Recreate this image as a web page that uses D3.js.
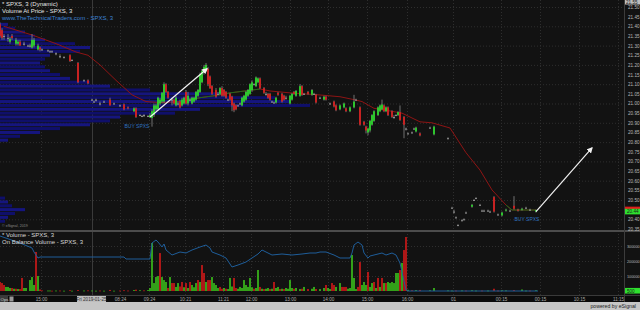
<!DOCTYPE html>
<html>
<head>
<meta charset="utf-8">
<script src="https://cdn.jsdelivr.net/npm/d3@7"></script>
<style>
html, body { margin: 0; padding: 0; background: #121212; }
svg { display: block; font-family: "Liberation Sans", Arial, sans-serif; }
</style>
</head>
<body>
<svg id="chart" width="640" height="310"></svg>
<script>
// candles: [barIndex, open, high, low, close]
const priorDay = [
  [0, 21.41, 21.42, 21.34, 21.35], [1, 21.38, 21.39, 21.33, 21.34], [2, 21.35, 21.36, 21.33, 21.35],
  [4, 21.34, 21.36, 21.32, 21.34], [5, 21.32, 21.345, 21.31, 21.335], [6, 21.35, 21.36, 21.33, 21.34],
  [8, 21.31, 21.34, 21.30, 21.33], [9, 21.31, 21.33, 21.30, 21.32], [10, 21.32, 21.33, 21.30, 21.30],
  [12, 21.31, 21.32, 21.30, 21.31], [14, 21.30, 21.305, 21.295, 21.30], [15, 21.30, 21.31, 21.29, 21.30],
  [16, 21.29, 21.36, 21.285, 21.33], [17, 21.30, 21.34, 21.29, 21.33], [19, 21.28, 21.31, 21.275, 21.30],
  [20, 21.29, 21.295, 21.27, 21.28], [21, 21.28, 21.285, 21.275, 21.28], [24, 21.275, 21.28, 21.27, 21.275],
  [25, 21.27, 21.275, 21.265, 21.27], [26, 21.27, 21.275, 21.265, 21.27], [28, 21.26, 21.265, 21.25, 21.26],
  [30, 21.245, 21.255, 21.235, 21.245], [32, 21.24, 21.245, 21.235, 21.24], [35, 21.25, 21.255, 21.215, 21.22],
  [36, 21.225, 21.23, 21.22, 21.225], [39, 21.21, 21.215, 21.105, 21.11], [42, 21.12, 21.125, 21.115, 21.12],
  [44, 21.12, 21.125, 21.10, 21.105]
];
const preMarket = [
  [46, 21.02, 21.025, 21.015, 21.02], [47, 21.01, 21.015, 21.005, 21.01], [48, 21.02, 21.025, 21.01, 21.02],
  [50, 21.00, 21.01, 20.99, 21.00], [52, 21.01, 21.015, 21.005, 21.01], [55, 21.02, 21.03, 20.99, 20.99],
  [57, 21.00, 21.005, 20.995, 21.00], [60, 20.99, 20.995, 20.985, 20.99], [62, 20.995, 21.0, 20.965, 20.97],
  [64, 20.98, 20.985, 20.97, 20.975], [67, 20.96, 20.98, 20.955, 20.975], [68, 20.975, 20.98, 20.925, 20.93],
  [70, 20.94, 20.945, 20.935, 20.94], [71, 20.935, 20.94, 20.93, 20.935], [72, 20.94, 20.945, 20.93, 20.94],
  [74, 20.935, 20.94, 20.93, 20.935]
];
const regular = [
  [75, 20.93, 20.95, 20.925, 20.94], [76, 20.925, 20.97, 20.88, 20.96], [77, 20.94, 21.00, 20.93, 20.99],
  [78, 20.97, 21.00, 20.96, 20.99], [79, 20.97, 21.035, 20.965, 21.03], [80, 21.00, 21.03, 20.99, 21.02],
  [81, 21.01, 21.06, 21.00, 21.055], [82, 21.01, 21.11, 21.00, 21.10], [83, 21.10, 21.105, 21.055, 21.06],
  [84, 21.06, 21.065, 21.025, 21.03], [86, 21.02, 21.03, 20.99, 21.02], [87, 21.02, 21.025, 20.995, 21.00],
  [88, 20.99, 21.04, 20.985, 21.03], [89, 21.00, 21.01, 20.99, 21.00], [90, 21.01, 21.02, 20.975, 20.98],
  [91, 20.99, 21.03, 20.985, 21.02], [92, 21.00, 21.035, 20.995, 21.03], [93, 21.06, 21.07, 20.995, 21.00],
  [94, 21.00, 21.06, 20.99, 21.04], [95, 21.02, 21.03, 21.01, 21.02], [96, 21.00, 21.035, 20.995, 21.03],
  [97, 21.01, 21.035, 21.005, 21.03], [98, 21.02, 21.065, 21.015, 21.06], [99, 21.04, 21.075, 21.035, 21.07],
  [100, 21.06, 21.16, 21.055, 21.15], [101, 21.11, 21.175, 21.105, 21.17], [102, 21.16, 21.20, 21.15, 21.19],
  [103, 21.17, 21.21, 21.165, 21.20], [104, 21.18, 21.19, 21.09, 21.10], [105, 21.14, 21.145, 21.075, 21.08],
  [106, 21.09, 21.095, 21.045, 21.05], [108, 21.07, 21.08, 21.03, 21.035], [109, 21.05, 21.06, 21.045, 21.05],
  [110, 21.05, 21.085, 21.045, 21.08], [111, 21.08, 21.09, 21.035, 21.04], [112, 21.07, 21.075, 21.035, 21.04],
  [113, 21.06, 21.065, 21.025, 21.03], [114, 21.02, 21.025, 21.015, 21.02], [115, 21.05, 21.055, 21.015, 21.02],
  [116, 21.035, 21.04, 20.96, 20.99], [117, 21.00, 21.005, 20.955, 20.965], [118, 20.99, 20.995, 20.965, 20.97],
  [119, 20.99, 20.995, 20.985, 20.99], [120, 21.00, 21.005, 20.995, 21.00], [121, 20.99, 21.035, 20.985, 21.03],
  [122, 21.01, 21.045, 21.005, 21.04], [123, 21.02, 21.065, 21.015, 21.06], [124, 21.04, 21.075, 21.035, 21.07],
  [125, 21.05, 21.105, 21.045, 21.10], [126, 21.07, 21.12, 21.06, 21.11], [127, 21.10, 21.105, 21.095, 21.10],
  [128, 21.09, 21.14, 21.085, 21.135], [129, 21.11, 21.135, 21.105, 21.13], [130, 21.13, 21.135, 21.075, 21.08],
  [132, 21.08, 21.085, 21.05, 21.055], [133, 21.05, 21.06, 21.04, 21.05], [134, 21.05, 21.055, 21.025, 21.03],
  [135, 21.05, 21.055, 21.015, 21.02], [136, 21.01, 21.015, 21.005, 21.01], [137, 21.005, 21.01, 21.0, 21.005],
  [138, 21.005, 21.035, 21.0, 21.03], [139, 21.055, 21.06, 21.04, 21.045], [141, 21.05, 21.055, 21.005, 21.01],
  [142, 21.04, 21.045, 21.015, 21.02], [143, 21.03, 21.04, 21.02, 21.03], [145, 21.00, 21.045, 20.995, 21.04],
  [146, 21.02, 21.055, 21.015, 21.05], [147, 21.06, 21.065, 21.045, 21.05], [148, 21.04, 21.07, 21.035, 21.065],
  [150, 21.04, 21.10, 21.035, 21.09], [151, 21.09, 21.095, 21.04, 21.045], [152, 21.05, 21.055, 21.045, 21.05],
  [154, 21.06, 21.065, 21.045, 21.05], [156, 21.045, 21.075, 21.04, 21.07], [157, 21.05, 21.055, 21.045, 21.05],
  [158, 21.045, 21.05, 21.0, 21.005], [160, 21.03, 21.035, 21.025, 21.03], [162, 21.02, 21.04, 21.015, 21.035],
  [163, 21.035, 21.04, 21.015, 21.02], [165, 21.00, 21.005, 20.995, 21.00], [167, 21.01, 21.015, 20.98, 20.985],
  [168, 20.99, 20.995, 20.96, 20.965], [170, 20.97, 20.995, 20.965, 20.99], [172, 20.98, 21.005, 20.975, 21.00],
  [173, 20.975, 20.98, 20.955, 20.96], [175, 20.96, 20.985, 20.955, 20.98], [177, 20.98, 21.045, 20.975, 21.01],
  [178, 21.02, 21.025, 21.015, 21.02], [180, 20.98, 20.985, 20.885, 20.89], [182, 20.905, 20.91, 20.885, 20.89],
  [183, 20.88, 20.885, 20.845, 20.86], [184, 20.85, 20.875, 20.835, 20.87], [185, 20.86, 20.915, 20.85, 20.91],
  [186, 20.89, 20.945, 20.885, 20.94], [187, 20.91, 20.965, 20.905, 20.96], [189, 20.94, 20.985, 20.935, 20.98],
  [190, 20.96, 20.995, 20.955, 20.99], [191, 20.97, 21.02, 20.965, 20.995], [192, 20.99, 20.995, 20.955, 20.96],
  [193, 20.96, 20.985, 20.955, 20.98], [194, 20.98, 20.985, 20.935, 20.94], [196, 20.96, 20.965, 20.925, 20.93],
  [197, 20.93, 20.94, 20.92, 20.93], [198, 20.94, 20.945, 20.935, 20.94], [199, 20.94, 20.96, 20.935, 20.955],
  [200, 20.955, 20.99, 20.91, 20.915], [202, 20.93, 20.935, 20.82, 20.89], [203, 20.87, 20.875, 20.86, 20.87]
];
const afterHours = [
  [204, 20.845, 20.85, 20.84, 20.845], [206, 20.85, 20.855, 20.845, 20.85], [207, 20.87, 20.875, 20.865, 20.87],
  [208, 20.855, 20.88, 20.85, 20.875], [210, 20.845, 20.85, 20.83, 20.835], [215, 20.875, 20.88, 20.87, 20.875],
  [217, 20.84, 20.885, 20.835, 20.88], [224, 20.82, 20.825, 20.815, 20.82], [226, 20.46, 20.465, 20.455, 20.46],
  [227, 20.44, 20.45, 20.43, 20.44], [228, 20.41, 20.415, 20.405, 20.41], [229, 20.37, 20.375, 20.365, 20.37],
  [231, 20.395, 20.40, 20.39, 20.395], [232, 20.40, 20.405, 20.395, 20.40], [233, 20.435, 20.44, 20.43, 20.435],
  [236, 20.465, 20.48, 20.46, 20.475], [237, 20.50, 20.505, 20.495, 20.50], [238, 20.51, 20.515, 20.505, 20.51],
  [240, 20.475, 20.48, 20.47, 20.475], [241, 20.445, 20.45, 20.44, 20.445], [242, 20.445, 20.45, 20.44, 20.445],
  [244, 20.445, 20.45, 20.44, 20.445], [245, 20.44, 20.445, 20.435, 20.44], [247, 20.515, 20.52, 20.435, 20.44],
  [249, 20.425, 20.43, 20.42, 20.425], [251, 20.42, 20.44, 20.415, 20.435], [253, 20.445, 20.455, 20.44, 20.45],
  [255, 20.445, 20.45, 20.44, 20.445], [257, 20.47, 20.52, 20.45, 20.455], [259, 20.45, 20.455, 20.44, 20.445],
  [261, 20.45, 20.46, 20.445, 20.455], [263, 20.46, 20.465, 20.455, 20.46], [265, 20.45, 20.455, 20.445, 20.45],
  [268, 20.44, 20.45, 20.435, 20.448]
];

// volume bars: [barIndex, shares, up(1)/down(0)]
const volumes = [
  [0,60000,0],[1,53000,0],[2,40000,0],[3,27000,1],[4,27000,1],[5,20000,1],[6,20000,0],[7,15000,1],[8,15000,0],
  [9,13000,1],[10,13000,0],[11,87000,0],[12,20000,1],[13,20000,1],[15,73000,1],[16,93000,1],[17,40000,1],
  [18,260000,0],[19,100000,1],[20,10000,0],[21,4000,0],[24,3000,1],[25,3000,1],[26,2000,0],[28,3000,1],
  [30,3000,0],[32,2000,1],[35,5000,0],[36,2000,1],[39,6000,0],[42,3000,1],[44,4000,0],[46,3000,1],[48,2000,1],
  [50,3000,0],[52,2000,1],[55,7000,0],[57,2000,1],[60,3000,0],[62,5000,0],[64,3000,0],[67,6000,1],[68,9000,0],
  [70,5000,1],[72,4000,0],[74,6000,1],
  [75,20000,1],[76,320000,1],[77,53000,1],[78,93000,1],[79,100000,1],[80,253000,0],[81,93000,1],[82,73000,1],
  [83,60000,1],[84,20000,0],[85,93000,1],[86,53000,0],[87,53000,0],[88,27000,1],[89,53000,1],[90,30000,0],
  [91,60000,0],[92,25000,1],[93,53000,0],[94,20000,1],[95,60000,0],[96,40000,1],[97,25000,1],[98,53000,1],
  [99,73000,0],[100,60000,1],[101,173000,0],[102,120000,0],[103,60000,1],[104,73000,0],[105,73000,0],
  [106,93000,1],[107,53000,1],[108,40000,1],[109,20000,1],[110,27000,0],[111,15000,0],[112,20000,1],
  [113,15000,0],[114,13000,1],[115,87000,1],[116,30000,1],[117,87000,0],[118,20000,0],[119,15000,1],
  [120,27000,1],[121,20000,1],[122,73000,1],[123,40000,1],[124,27000,1],[125,87000,1],[126,25000,1],
  [127,15000,0],[128,20000,1],[129,140000,1],[130,27000,0],[131,15000,1],[132,13000,0],[133,15000,1],
  [134,20000,1],[135,13000,0],[136,15000,1],[137,60000,0],[138,20000,1],[139,27000,1],[140,13000,0],
  [141,15000,1],[142,13000,0],[143,20000,1],[144,15000,1],[145,73000,1],[146,20000,1],[147,15000,0],
  [148,20000,1],[150,13000,1],[151,15000,0],[152,27000,1],[154,13000,0],[156,15000,1],[157,27000,1],
  [158,13000,0],[160,13000,1],[162,20000,1],[163,40000,0],[164,20000,1],[165,13000,1],[166,53000,0],
  [167,40000,0],[168,27000,1],[170,53000,1],[171,27000,0],[172,27000,0],[173,27000,0],[174,15000,1],
  [175,20000,1],[176,240000,1],[177,87000,1],[178,13000,1],[179,27000,0],[180,193000,0],[181,40000,1],
  [182,60000,1],[183,40000,1],[184,127000,0],[185,27000,1],[186,53000,1],[187,60000,0],[188,20000,1],
  [189,87000,0],[190,27000,1],[191,87000,0],[192,53000,1],[193,53000,0],[194,60000,1],[195,53000,1],
  [196,60000,1],[197,53000,1],[198,120000,1],[199,120000,1],[200,140000,0],[201,187000,1],[202,273000,0],
  [203,360000,0],
  [204,8000,1],[206,5000,0],[208,6000,1],[210,7000,0],[215,5000,1],[217,20000,1],[224,4000,1],[226,3000,1],
  [228,3000,0],[231,4000,1],[233,3000,0],[236,5000,1],[238,3000,1],[241,3000,0],[244,3000,1],[247,15000,0],
  [249,3000,0],[251,5000,1],[253,4000,1],[257,6000,0],[261,10000,1],[263,3000,1],[265,3000,0],[268,5000,1]
];

// on balance volume (thousands): [barIndex, value]
const obvPoints = [
  [0,0],[10,-280],[16,-480],[17,-640],[19,-880],[20,-840],[62,-840],[63,-920],[75,-920],[76,-280],[78,-160],
  [79,-240],[81,-440],[82,-320],[83,-560],[86,-760],[90,-640],[93,-680],[96,-560],[100,-440],[103,-360],
  [105,-480],[106,-640],[110,-760],[113,-880],[116,-1240],[119,-1160],[123,-1040],[126,-880],[129,-720],
  [131,-560],[133,-640],[136,-760],[141,-720],[146,-760],[151,-720],[155,-680],[158,-680],[160,-640],
  [163,-640],[167,-760],[170,-880],[175,-880],[176,-680],[177,-360],[179,-240],[181,-360],[182,-680],
  [184,-880],[185,-800],[187,-760],[191,-680],[193,-760],[196,-680],[198,-760],[200,-1080],[201,-1440],
  [203,-2160],[204,-2200],[269,-2200]
];

// moving average: [barIndex, price]
const maPoints = [
  [2,21.40],[16,21.355],[28,21.31],[38,21.267],[44,21.25],[50,21.20],[58,21.12],[66,21.045],[73,21.01],
  [80,21.005],[90,21.01],[100,21.03],[107,21.04],[115,21.055],[130,21.075],[135,21.065],[145,21.055],
  [159,21.045],[170,21.035],[177,21.02],[181,21.01],[187,20.975],[193,20.965],[201,20.95],[210,20.905],
  [216,20.90],[225,20.873],[233,20.745],[240,20.655],[246,20.552],[253,20.474],[256,20.448],[268,20.448]
];
const maAboveSpans = [[90, 130], [253, 268]];

// volume at price: [bin centre price, shares]
const vapBins = [
  [21.41,8000],[21.39,15000],[21.37,25000],[21.35,35000],[21.33,45000],[21.31,75000],[21.29,90000],
  [21.27,80000],[21.25,50000],[21.23,45000],[21.21,40000],[21.19,45000],[21.17,50000],[21.15,60000],
  [21.13,70000],[21.11,90000],[21.09,110000],[21.07,150000],[21.05,225000],[21.03,275000],[21.01,290000],
  [20.99,310000],[20.97,200000],[20.95,175000],[20.93,120000],[20.91,110000],[20.89,90000],[20.87,60000],
  [20.85,40000],[20.83,20000],[20.81,8000],
  [20.51,5000],[20.49,8000],[20.47,12000],[20.45,25000],[20.43,15000],[20.41,8000],[20.39,5000]
];

const trendArrows = [[75, 20.93, 103.5, 21.18], [268, 20.44, 296, 20.77]];
const buySignals = [[68.5, 20.885], [263.5, 20.40]];

const priceTicks = [21.50, 21.45, 21.40, 21.35, 21.30, 21.25, 21.20, 21.15, 21.10, 21.05, 21.00, 20.95,
  20.90, 20.85, 20.80, 20.75, 20.70, 20.65, 20.60, 20.55, 20.50, 20.40, 20.35];
const volumeTicks = [100000, 200000, 300000];
const timeTicks = [[20.5,"15:00"],[60,"08:24"],[74.5,"09:24"],[92.5,"10:21"],[111.5,"11:21"],[125.5,"12:00"],
  [145,"13:00"],[164,"14:00"],[183.5,"15:00"],[203.5,"16:00"],[226.5,"01"],[250.5,"00:15"],[270,"00:15"],
  [289.5,"10:15"],[309,"11:15"]];
const dayBreak = [46, "Fri 2019-01-25"];
const lastPrice = 20.44, lastMa = 20.45, topPrice = 21.55, lastVolume = 500;

const svg = d3.select("#chart");
const W = 624;
const x = d3.scaleLinear().domain([0, 312]).range([0, W]);
const yPrice = d3.scaleLinear().domain([20.5, 21.1]).range([200, 84.2]);
const yVol = d3.scaleLinear().domain([0, 400000]).range([291, 231]);
const yObv = d3.scaleLinear().domain([-2200, 0]).range([291, 236]);
const vapX = d3.scaleLinear().domain([0, 320000]).range([0, 320]);

svg.append("rect").attr("width", 640).attr("height", 310).attr("fill", "#121212");

const defs = svg.append("defs");
defs.append("clipPath").attr("id", "pclip").append("rect").attr("width", W).attr("height", 229);
defs.append("clipPath").attr("id", "vclip").append("rect").attr("y", 232).attr("width", W).attr("height", 63);
defs.append("marker").attr("id", "head").attr("viewBox", "0 0 10 10").attr("refX", 8).attr("refY", 5)
  .attr("markerWidth", 5).attr("markerHeight", 5).attr("orient", "auto")
  .append("path").attr("d", "M0,0L10,5L0,10z").attr("fill", "#f2f2f2");

// grid
const grid = svg.append("g");
grid.selectAll(".hg").data(priceTicks.filter(p => Math.round(p * 100) % 10 === 0)).enter()
  .append("line").attr("x1", 0).attr("x2", W)
  .attr("y1", d => yPrice(d) + 0.5).attr("y2", d => yPrice(d) + 0.5)
  .attr("stroke", "#2e2e2e").attr("stroke-dasharray", "1,2");
grid.selectAll(".vg").data(volumeTicks).enter()
  .append("line").attr("x1", 0).attr("x2", W)
  .attr("y1", d => yVol(d) + 0.5).attr("y2", d => yVol(d) + 0.5)
  .attr("stroke", "#2e2e2e").attr("stroke-dasharray", "1,2");
grid.selectAll(".tg").data(timeTicks).enter()
  .append("line").attr("x1", d => Math.round(x(d[0])) + 0.5).attr("x2", d => Math.round(x(d[0])) + 0.5)
  .attr("y1", 0).attr("y2", 295)
  .attr("stroke", "#2e2e2e").attr("stroke-dasharray", "1,2");
grid.append("line").attr("x1", x(dayBreak[0]) + 0.5).attr("x2", x(dayBreak[0]) + 0.5)
  .attr("y1", 0).attr("y2", 295).attr("stroke", "#3a3a3a");

// price panel
const pp = svg.append("g").attr("clip-path", "url(#pclip)");
const binH = yPrice(20.5) - yPrice(20.52);
pp.selectAll(".vap").data(vapBins).enter().append("rect")
  .attr("x", 0).attr("y", d => yPrice(d[0] + 0.01) + 0.4)
  .attr("width", d => vapX(d[1])).attr("height", binH - 0.8)
  .attr("fill", (d, i) => i % 2 ? "#0f0f6a" : "#15157e");

const maLine = d3.line().x(d => x(d[0])).y(d => yPrice(d[1]));
pp.append("path").attr("d", maLine(maPoints)).attr("fill", "none")
  .attr("stroke", "#8e1414").attr("stroke-width", 1);
maAboveSpans.forEach(s => {
  pp.append("path").attr("d", maLine(maPoints.filter(d => d[0] >= s[0] && d[0] <= s[1])))
    .attr("fill", "none").attr("stroke", "#1c6a1c").attr("stroke-width", 1);
});

const candles = priorDay.concat(preMarket, regular, afterHours);
const cg = pp.append("g");
cg.selectAll(".wick").data(candles).enter().append("line")
  .attr("x1", d => x(d[0])).attr("x2", d => x(d[0]))
  .attr("y1", d => yPrice(d[2])).attr("y2", d => yPrice(d[3]))
  .attr("stroke", "#8a8a8a").attr("stroke-width", 0.8);
cg.selectAll(".body").data(candles).enter().append("rect")
  .attr("x", d => x(d[0]) - 0.9).attr("width", 1.8)
  .attr("y", d => yPrice(Math.max(d[1], d[4])))
  .attr("height", d => Math.max(1, Math.abs(yPrice(d[1]) - yPrice(d[4]))))
  .attr("fill", d => d[4] > d[1] ? "#2cd42c" : d[4] < d[1] ? "#d62020" : "#9a9a9a");

trendArrows.forEach(a => {
  pp.append("line").attr("x1", x(a[0])).attr("y1", yPrice(a[1]))
    .attr("x2", x(a[2])).attr("y2", yPrice(a[3]))
    .attr("stroke", "#f2f2f2").attr("stroke-width", 1.2).attr("marker-end", "url(#head)");
});
pp.selectAll(".buy").data(buySignals).enter().append("text")
  .attr("x", d => x(d[0])).attr("y", d => yPrice(d[1]) + 2)
  .attr("text-anchor", "middle").attr("font-size", 5).attr("fill", "#2f73c0").text("BUY SPXS");

// volume panel
const vp = svg.append("g").attr("clip-path", "url(#vclip)");
vp.selectAll(".vol").data(volumes).enter().append("rect")
  .attr("x", d => x(d[0]) - 0.8).attr("width", 1.6)
  .attr("y", d => yVol(d[1])).attr("height", d => Math.max(0.8, yVol(0) - yVol(d[1])))
  .attr("fill", d => d[2] ? "#3cc41c" : "#d41a1a");
vp.append("path").attr("d", d3.line().x(d => x(d[0])).y(d => yObv(d[1]))(obvPoints))
  .attr("fill", "none").attr("stroke", "#1e5d99").attr("stroke-width", 1);

// panel separators and axis areas
svg.append("rect").attr("x", 0).attr("y", 230).attr("width", 640).attr("height", 2).attr("fill", "#4c4c4c");
svg.append("rect").attr("x", 0).attr("y", 295).attr("width", 640).attr("height", 7).attr("fill", "#0b0b0b");
svg.append("line").attr("x1", 0).attr("x2", 640).attr("y1", 295.5).attr("y2", 295.5).attr("stroke", "#3a3a3a");
svg.append("line").attr("x1", W + 0.5).attr("x2", W + 0.5).attr("y1", 0).attr("y2", 302).attr("stroke", "#3c3c3c");

// right axes
const pAxis = svg.append("g").attr("transform", `translate(${W + 2},0)`)
  .call(d3.axisRight(yPrice).tickValues(priceTicks).tickSize(0).tickFormat(d3.format(".2f")));
const vAxis = svg.append("g").attr("transform", `translate(${W + 1},0)`)
  .call(d3.axisRight(yVol).tickValues(volumeTicks).tickSize(0).tickFormat(d3.format("d")));
[pAxis, vAxis].forEach(g => {
  g.select(".domain").remove();
  g.selectAll("text").attr("font-size", 4.6).attr("fill", "#b8b8b8").attr("dx", -1)
    .attr("font-family", "Liberation Sans, Arial, sans-serif");
});
vAxis.selectAll("text").attr("font-size", 3.8);

svg.append("rect").attr("x", W + 1).attr("y", 0).attr("width", 15).attr("height", 4.5).attr("fill", "#bdbdbd");
svg.append("text").attr("x", W + 2).attr("y", 3.8).attr("font-size", 4.6).attr("fill", "#222")
  .text(d3.format(".2f")(topPrice));
svg.append("rect").attr("x", W + 1).attr("y", yPrice(lastMa) - 3).attr("width", 15).attr("height", 4).attr("fill", "#e01c1c");
svg.append("rect").attr("x", W + 1).attr("y", yPrice(lastPrice) - 2.8).attr("width", 15).attr("height", 5.6).attr("fill", "#2ee02e");
svg.append("text").attr("x", W + 3).attr("y", yPrice(lastPrice) + 1.8).attr("font-size", 4.6).attr("fill", "#1a1a1a")
  .text(d3.format(".2f")(lastPrice));
svg.append("rect").attr("x", W + 1).attr("y", yVol(lastVolume) - 3).attr("width", 15).attr("height", 5.6).attr("fill", "#2ee02e");
svg.append("text").attr("x", W + 3).attr("y", yVol(lastVolume) + 1.6).attr("font-size", 4.6).attr("fill", "#1a1a1a")
  .text(lastVolume);

// time axis
const tAxis = svg.append("g").attr("transform", "translate(0,296)")
  .call(d3.axisBottom(x).tickValues(timeTicks.map(d => d[0])).tickSize(0)
    .tickFormat((d, i) => timeTicks[i][1]));
tAxis.select(".domain").remove();
tAxis.selectAll("text").attr("font-size", 4.6).attr("fill", "#a8a8a8").attr("dy", "0.45em")
  .attr("font-family", "Liberation Sans, Arial, sans-serif");
svg.append("rect").attr("x", x(dayBreak[0]) - 15).attr("y", 296).attr("width", 29).attr("height", 6).attr("fill", "#bdbdbd");
svg.append("text").attr("x", x(dayBreak[0]) - 0.5).attr("y", 300.8).attr("text-anchor", "middle")
  .attr("font-size", 4.6).attr("fill", "#333").text(dayBreak[1]);
svg.append("rect").attr("x", 0).attr("y", 296).attr("width", 8).attr("height", 6).attr("fill", "#3a3a3a");
svg.append("text").attr("x", 0.5).attr("y", 300.8).attr("font-size", 4.4).attr("fill", "#cfcfcf").text("Ops");
svg.append("rect").attr("x", 9.5).attr("y", 296.5).attr("width", 4).attr("height", 5).attr("fill", "#9a9a9a");

// bottom bar
svg.append("rect").attr("x", 0).attr("y", 302).attr("width", 640).attr("height", 8).attr("fill", "#c6c6c6");
svg.append("text").attr("x", 636).attr("y", 308.4).attr("text-anchor", "end").attr("font-size", 5.2)
  .attr("fill", "#222").text("powered by eSignal");

// panel titles
const titles = [
  [6, "* SPXS, 3 (Dynamic)", "#e6e6e6"],
  [13, "Volume At Price - SPXS, 3", "#e6e6e6"],
  [20, "www.TheTechnicalTraders.com - SPXS, 3", "#3d84d6"],
  [237, "* Volume - SPXS, 3", "#d8d8d8"],
  [243.5, "On Balance Volume - SPXS, 3", "#d8d8d8"]
];
svg.selectAll(".title").data(titles).enter().append("text")
  .attr("x", 2).attr("y", d => d[0]).attr("font-size", 6).attr("fill", d => d[2]).text(d => d[1]);
svg.append("text").attr("x", 2).attr("y", 227).attr("font-size", 3.6).attr("fill", "#8a8a8a").text("© eSignal, 2019");
</script>
</body>
</html>
